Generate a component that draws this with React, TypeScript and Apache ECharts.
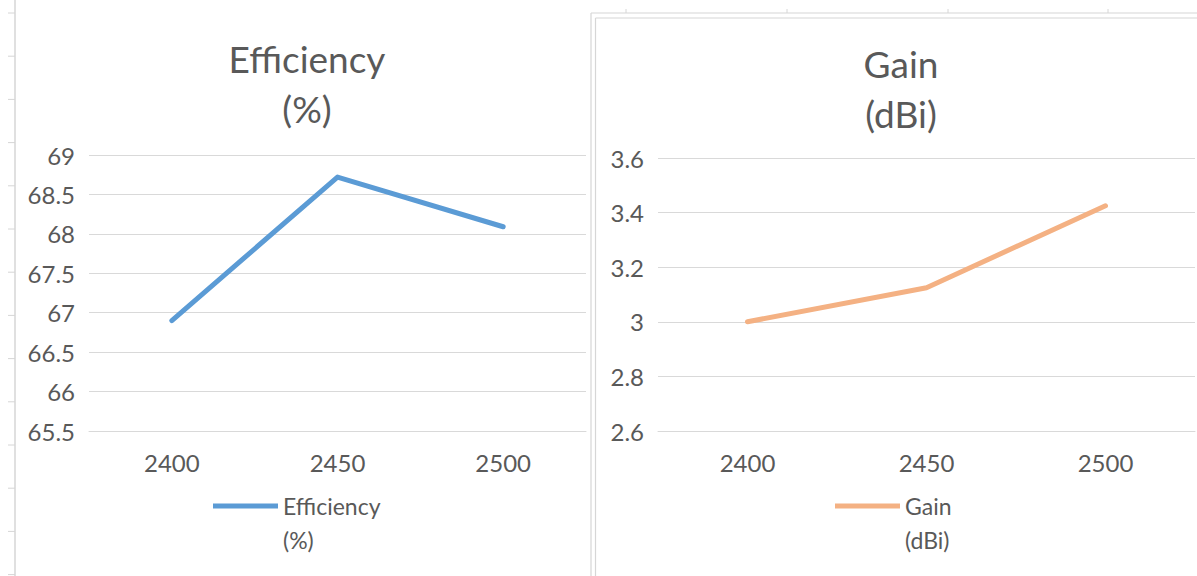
import React, { useEffect, useRef } from "react";
import * as echarts from "echarts";

const frequencies = ["2400", "2450", "2500"];
const efficiencyValues = [66.9, 68.72, 68.09];
const gainValues = [3.0, 3.125, 3.425];
const efficiencyTicks = { min: 65.5, max: 69, interval: 0.5 };
const gainTicks = { min: 2.6, max: 3.6, interval: 0.2 };

const FONT = "Lato, 'Open Sans', sans-serif";
const TEXT = "#595959";
const GRID = "#d9d9d9";
const BLUE = "#5B9BD5";
const ORANGE = "#F4B183";
const FRAME = "#d6d6d6";

export default function App() {
  const ref = useRef<HTMLDivElement>(null);
  useEffect(() => {
    if (!ref.current) return;
    const chart = echarts.init(ref.current, null, { renderer: "svg" });

    const leftTicks: any[] = [];
    for (let i = 0; i < 14; i++) {
      const y = 13 + i * 43.2;
      leftTicks.push({ type: "line", shape: { x1: 8, y1: y, x2: 15, y2: y }, style: { stroke: FRAME, lineWidth: 1 }, silent: true });
    }
    const topTicks: any[] = [626, 787, 948, 1108].map((x) => ({
      type: "line", shape: { x1: x, y1: 9, x2: x, y2: 13 }, style: { stroke: FRAME, lineWidth: 1 }, silent: true,
    }));

    const yAxisCommon = {
      type: "value",
      axisLine: { show: false },
      axisTick: { show: false },
      splitLine: { show: true, lineStyle: { color: GRID, width: 1 } },
      axisLabel: { color: TEXT, fontSize: 24, fontFamily: FONT, margin: 14 },
    };
    const xAxisCommon = {
      type: "category",
      data: frequencies,
      boundaryGap: true,
      axisLine: { show: true, lineStyle: { color: GRID, width: 1 } },
      axisTick: { show: false },
      axisLabel: { color: TEXT, fontSize: 24, fontFamily: FONT, margin: 19 },
    };
    const legendText = { color: TEXT, fontSize: 23, fontFamily: FONT, lineHeight: 34 };

    chart.setOption({
      animation: false,
      backgroundColor: "#ffffff",
      title: [
        {
          text: "Efficiency\n(%)",
          left: 302,
          top: 28,
          textAlign: "center",
          textStyle: { color: TEXT, fontSize: 37, fontWeight: "normal", fontFamily: FONT, lineHeight: 50 },
        },
        {
          text: "Gain\n(dBi)",
          left: 896,
          top: 33,
          textAlign: "center",
          textStyle: { color: TEXT, fontSize: 37, fontWeight: "normal", fontFamily: FONT, lineHeight: 50 },
        },
      ],
      legend: [
        {
          data: [{ name: "Efficiency\n(%)", icon: "rect" }],
          formatter: (name: string) => "\n" + name,
          left: 208,
          top: 450,
          itemWidth: 65,
          itemHeight: 5,
          textStyle: legendText,
          selectedMode: false,
        },
        {
          data: [{ name: "Gain\n(dBi)", icon: "rect" }],
          formatter: (name: string) => "\n" + name,
          left: 830,
          top: 450,
          itemWidth: 65,
          itemHeight: 5,
          textStyle: legendText,
          selectedMode: false,
        },
      ],
      grid: [
        { left: 89, right: 611, top: 155, bottom: 145, containLabel: false },
        { left: 658, right: 2, top: 158, bottom: 145, containLabel: false },
      ],
      xAxis: [
        { ...xAxisCommon, gridIndex: 0 },
        { ...xAxisCommon, gridIndex: 1 },
      ],
      yAxis: [
        { ...yAxisCommon, gridIndex: 0, ...efficiencyTicks },
        { ...yAxisCommon, gridIndex: 1, ...gainTicks },
      ],
      series: [
        {
          name: "Efficiency\n(%)",
          type: "line",
          xAxisIndex: 0,
          yAxisIndex: 0,
          data: efficiencyValues,
          showSymbol: false,
          symbol: "none",
          lineStyle: { color: BLUE, width: 5, cap: "round", join: "round" },
          itemStyle: { color: BLUE },
        },
        {
          name: "Gain\n(dBi)",
          type: "line",
          xAxisIndex: 1,
          yAxisIndex: 1,
          data: gainValues,
          showSymbol: false,
          symbol: "none",
          lineStyle: { color: ORANGE, width: 5, cap: "round", join: "round" },
          itemStyle: { color: ORANGE },
        },
      ],
      graphic: [
        { type: "line", shape: { x1: 15, y1: 0, x2: 15, y2: 576 }, style: { stroke: FRAME, lineWidth: 1.5 }, silent: true },
        ...leftTicks,
        { type: "line", shape: { x1: 591, y1: 13, x2: 591, y2: 576 }, style: { stroke: FRAME, lineWidth: 1.2 }, silent: true },
        { type: "line", shape: { x1: 591, y1: 13, x2: 1197, y2: 13 }, style: { stroke: FRAME, lineWidth: 1.2 }, silent: true },
        { type: "line", shape: { x1: 595.5, y1: 18, x2: 595.5, y2: 576 }, style: { stroke: FRAME, lineWidth: 1.2 }, silent: true },
        { type: "line", shape: { x1: 595.5, y1: 18, x2: 1197, y2: 18 }, style: { stroke: FRAME, lineWidth: 1.2 }, silent: true },
        ...topTicks,
      ],
    });
    return () => chart.dispose();
  }, []);
  return (
    <div
      ref={ref}
      style={{ position: "fixed", left: 0, top: 0, width: 1197, height: 576, background: "#fff" }}
    />
  );
}
